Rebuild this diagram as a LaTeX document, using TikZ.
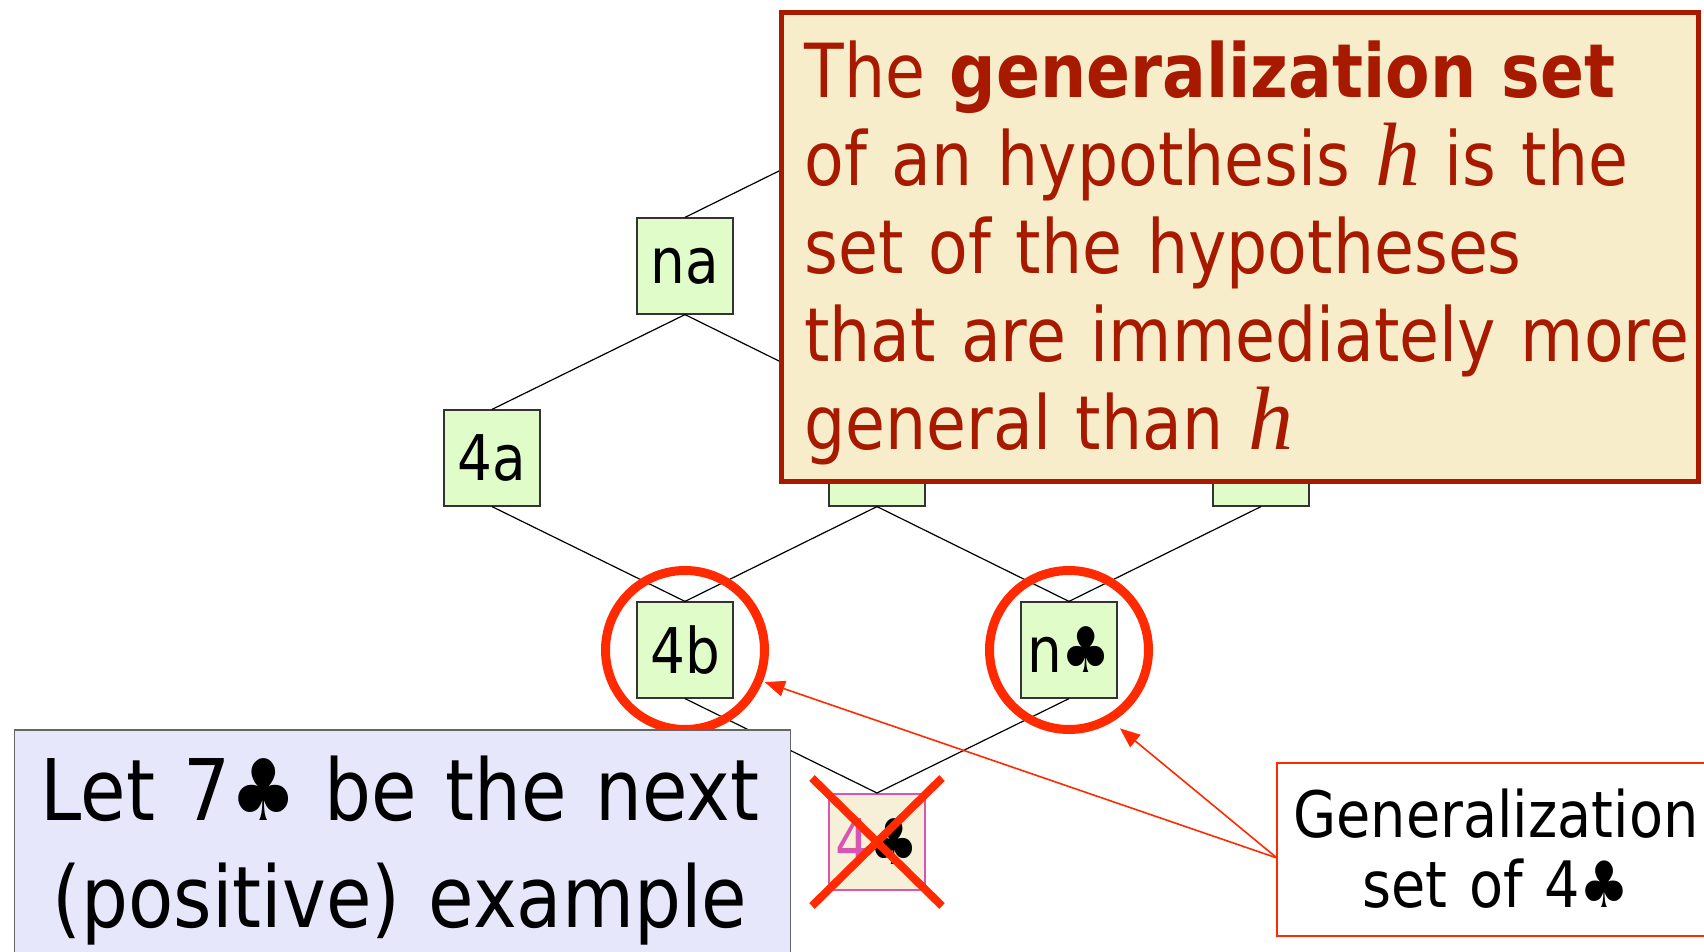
\documentclass[tikz,border=0pt]{standalone}
\usepackage{fontspec}
\setmainfont{DejaVu Sans}[FakeStretch=0.87]
\newfontfamily\hfont{Liberation Serif}
\usetikzlibrary{arrows.meta}

\definecolor{hypgreen}{HTML}{E0FCC8}
\definecolor{defred}{HTML}{A81A00}
\definecolor{deffill}{HTML}{F7EDCB}
\definecolor{exfill}{HTML}{E7E7FB}
\definecolor{ringred}{HTML}{FF2A00}
\definecolor{deadfill}{HTML}{F7F0D8}
\definecolor{deadpink}{HTML}{D955B3}

\newcommand\hyph{{\hfont\itshape\fontsize{45}{44}\selectfont h}}

\begin{document}
\begin{tikzpicture}[
  x=0.5pt, y=-0.5pt,
  hyp/.style={
    draw=black!80, line width=0.6pt, fill=hypgreen,
    minimum size=48pt, inner sep=0pt,
    font=\fontsize{31.5}{36}\selectfont
  },
  dead/.style={hyp, fill=deadfill, draw=deadpink, line width=1pt},
  link/.style={black, line width=0.6pt},
  ring/.style={circle, draw=ringred, line width=4.5pt, minimum size=79.5pt, inner sep=0pt},
  strike/.style={ringred, line width=4pt},
  pointer/.style={ringred, line width=0.8pt, -{Triangle[length=10pt,width=8pt]}},
  defbox/.style={draw=defred, fill=deffill, line width=2.5pt,
    minimum width=458.5pt, minimum height=234.5pt},
  deftext/.style={text=defred, inner sep=0pt, text width=445pt, align=left,
    font=\fontsize{37.3}{44}\selectfont},
  exbox/.style={draw=black!60, fill=exfill, line width=0.7pt,
    minimum width=388pt, minimum height=150pt},
  gsbox/.style={draw=ringred, fill=white, line width=0.8pt,
    minimum width=222pt, minimum height=86.5pt},
  note/.style={inner sep=0pt, align=center}
]
\useasboundingbox (0,0) rectangle (1704,952);

% lattice of hypotheses
\node[hyp] (top) at (877,74) {};
\node[hyp] (na) at (685,266) {na};
\node[hyp] (ax) at (1069,266) {};
\node[hyp] (4a) at (492,458) {4a};
\node[hyp] (nb) at (877,458) {};
\node[hyp] (ac) at (1261,458) {};
\node[hyp] (4b) at (685,650) {4b};
\node[hyp] (nc) at (1069,650) {n♣};
\node[dead] (4c) at (877,842) {{\color{deadpink}4}♣};

\foreach \u/\l in {top/na, top/ax, na/4a, na/nb, ax/nb, ax/ac,
                   4a/4b, nb/4b, nb/nc, ac/nc, 4b/4c, nc/4c}
  \draw[link] (\u.south) -- (\l.north);

% generalization set of 4c
\node[ring] (r4b) at (4b) {};
\node[ring] (rnc) at (nc) {};

% 4c is ruled out
\draw[strike] ([shift={(-65,-64)}]4c.center) -- ([shift={(65,64)}]4c.center);
\draw[strike] ([shift={(65,-64)}]4c.center) -- ([shift={(-65,64)}]4c.center);

\node[exbox] (ex) at (402.5,880) {};
\node[note, text width=370pt, font=\fontsize{42.5}{53.5}\selectfont, anchor=base]
  (extxt) at (400,820) {Let 7♣ be the next\\(positive) example};

\node[defbox] (def) at (1240,247) {};
\node[deftext, anchor=base west] (deftxt) at (804,98)
  {The \textbf{generalization set}\\
   of an hypothesis \hyph{} is the\\
   set of the hypotheses\\
   that are immediately more\\
   general than \hyph};

\node[gsbox] (gs) at (1499,849.5) {};
\node[note, text width=210pt, font=\fontsize{32}{35}\selectfont, anchor=base]
  (gstxt) at (1496,837) {Generalization\\set of 4♣};

\coordinate (gsrc) at (1277,858);
\draw[pointer, shorten >=1pt] (gsrc) -- (r4b.-22);
\draw[pointer, shorten >=5pt] (gsrc) -- (rnc.-59);
\end{tikzpicture}
\end{document}
